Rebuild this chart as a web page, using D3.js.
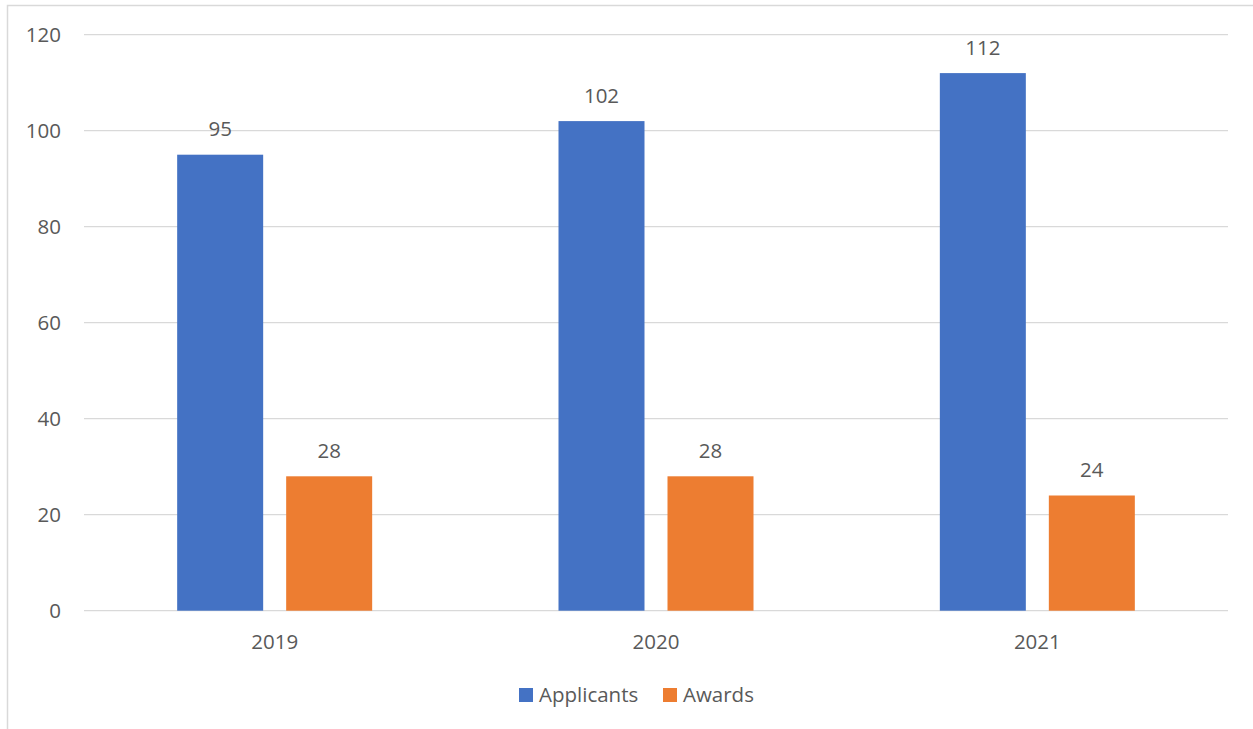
<!DOCTYPE html>
<html>
<head>
<meta charset="utf-8">
<script src="https://cdn.jsdelivr.net/npm/d3@7/dist/d3.min.js"></script>
<style>
  html, body { margin: 0; padding: 0; background: #fff; }
  svg { display: block; }
  text { font-family: "Open Sans", "Liberation Sans", sans-serif; fill: #595959; }
</style>
</head>
<body>
<svg id="chart" width="1253" height="729"></svg>
<script>
const years = ["2019", "2020", "2021"];
const seriesNames = ["Applicants", "Awards"];
const applicants = [95, 102, 112];
const awards = [28, 28, 24];
const yTicks = [0, 20, 40, 60, 80, 100, 120];
const colors = ["#4472C4", "#ED7D31"];

const svg = d3.select("#chart");
const W = 1253, H = 729;
const FS = 20.5;
const FONT = '"Open Sans", "Liberation Sans", sans-serif';

// outer chart frame
svg.append("rect")
  .attr("x", 7.5).attr("y", 5.5)
  .attr("width", W + 10).attr("height", H + 10)
  .attr("fill", "none").attr("stroke", "#d9d9d9").attr("stroke-width", 1.5);

const plot = { left: 84, right: 1228, top: 34.7, bottom: 610.7 };

const x = d3.scaleBand().domain(years).range([plot.left, plot.right]);
const y = d3.scaleLinear().domain([0, 120]).range([plot.bottom, plot.top]);

// horizontal gridlines
svg.append("g").selectAll("line").data(yTicks).join("line")
  .attr("x1", plot.left).attr("x2", plot.right)
  .attr("y1", d => y(d)).attr("y2", d => y(d))
  .attr("stroke", "#d9d9d9").attr("stroke-width", 1.3);

// y-axis labels
const yAxis = d3.axisLeft(y).tickValues(yTicks).tickSize(0).tickPadding(0);
svg.append("g").attr("transform", `translate(61,0)`).call(yAxis)
  .call(g => g.select(".domain").remove())
  .call(g => g.selectAll("text").attr("font-size", FS).attr("fill", "#595959")
    .style("font-family", FONT));

// x-axis labels
const xAxis = d3.axisBottom(x).tickSize(0).tickPadding(0);
svg.append("g").attr("transform", `translate(0,${plot.bottom + 24})`).call(xAxis)
  .call(g => g.select(".domain").remove())
  .call(g => g.selectAll("text").attr("font-size", FS).attr("fill", "#595959")
    .style("font-family", FONT));

// bars within each year
const barW = 86, gap = 23;
const inner = d3.scaleOrdinal().domain(seriesNames)
  .range([-(barW + gap / 2), gap / 2]);

const rows = years.map((yr, i) => ({ year: yr, values: [
  { name: seriesNames[0], value: applicants[i] },
  { name: seriesNames[1], value: awards[i] }
]}));

const groups = svg.append("g").selectAll("g").data(rows).join("g")
  .attr("transform", d => `translate(${x(d.year) + x.bandwidth() / 2},0)`);

groups.selectAll("rect").data(d => d.values).join("rect")
  .attr("x", d => inner(d.name))
  .attr("y", d => y(d.value))
  .attr("width", barW)
  .attr("height", d => y(0) - y(d.value))
  .attr("fill", (d, i) => colors[i]);

groups.selectAll("text.val").data(d => d.values).join("text")
  .attr("class", "val")
  .attr("x", d => inner(d.name) + barW / 2)
  .attr("y", d => y(d.value) - 18.5)
  .attr("text-anchor", "middle")
  .attr("font-size", FS)
  .text(d => d.value);

// legend
const legend = svg.append("g");
const legendItems = [
  { name: seriesNames[0], color: colors[0], x: 519 },
  { name: seriesNames[1], color: colors[1], x: 663 }
];
legendItems.forEach(it => {
  legend.append("rect").attr("x", it.x).attr("y", 688)
    .attr("width", 14).attr("height", 14).attr("fill", it.color);
  legend.append("text").attr("x", it.x + 20).attr("y", 702)
    .attr("font-size", FS).text(it.name);
});
</script>
</body>
</html>
